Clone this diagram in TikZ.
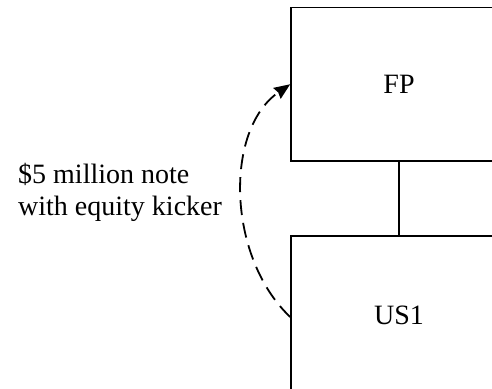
\documentclass[tikz,border=0pt]{standalone}
\usepackage{fontspec}
\setmainfont{Liberation Serif}
\usetikzlibrary{arrows.meta}
\tikzset{
  entity/.style={draw, line width=1.6pt, minimum width=216pt, inner sep=0pt, font=\fontsize{28}{32}\selectfont},
  flow/.style={line width=1.8pt, dash pattern=on 15pt off 8pt, -{Stealth[length=16pt,width=13pt,inset=1.5pt]}},
  lbl/.style={inner sep=0pt, align=left, font=\fontsize{28}{32}\selectfont}
}
\begin{document}
\begin{tikzpicture}[x=1pt,y=-1pt]
\useasboundingbox (0,0) rectangle (492,388);
\clip (0,0) rectangle (492,388);
\node[entity, minimum height=153.5pt] (fp) at (399,84.25) {FP};
\node[entity, minimum height=158pt] (us1) at (399,315) {US1};
\draw[line width=1.6pt] (fp.south) -- (us1.north);
\draw[flow] ([yshift=-2pt]us1.west) .. controls (227,257) and (224,129.8) .. (fp.west);
\node[lbl, anchor=west] (note) at (18,192) {\$5 million note\\with equity kicker};
\end{tikzpicture}
\end{document}
